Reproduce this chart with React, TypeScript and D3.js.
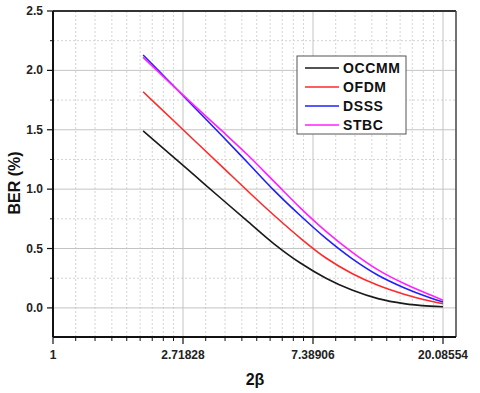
import * as d3 from "d3";

// x values (2β), log-e axis
const xValues = [2, 2.4596, 3.0042, 3.6693, 4.4817, 5.4739, 6.6859, 8.1662, 9.9742, 12.1825, 14.8797, 18.1741, 20.08554];
const occmm = [1.49, 1.295, 1.105, 0.915, 0.727, 0.54, 0.38, 0.25, 0.15, 0.078, 0.036, 0.015, 0.01];
const ofdm = [1.82, 1.605, 1.397, 1.19, 0.982, 0.78, 0.59, 0.42, 0.29, 0.19, 0.115, 0.058, 0.035];
const dsss = [2.13, 1.9, 1.675, 1.45, 1.22, 0.99, 0.78, 0.585, 0.415, 0.275, 0.17, 0.085, 0.05];
const stbc = [2.11, 1.895, 1.69, 1.49, 1.285, 1.065, 0.845, 0.645, 0.47, 0.32, 0.205, 0.11, 0.065];

const seriesNames = ["OCCMM", "OFDM", "DSSS", "STBC"];
const seriesColors = ["#1a1a1a", "#ff2a2a", "#2020ff", "#ff22ff"];
const seriesValues = [occmm, ofdm, dsss, stbc];

const xTickLabels = ["1", "2.71828", "7.38906", "20.08554"];
const xTicks = [1, Math.E, Math.E ** 2, Math.E ** 3];
const yTicks = [0, 0.5, 1.0, 1.5, 2.0, 2.5];

export default function App() {
  const width = 480;
  const height = 393;
  const margin = { top: 11, right: 24, bottom: 56, left: 53 };
  const innerRight = width - margin.right;
  const innerBottom = height - margin.bottom;

  const x = d3
    .scaleLog()
    .base(Math.E)
    .domain([1, Math.exp(3.1)])
    .range([margin.left, innerRight]);
  const y = d3.scaleLinear().domain([-0.245, 2.5]).range([innerBottom, margin.top]);

  // Origin style minor ticks: 8 linear steps between decades
  const xMinor: number[] = [];
  for (let d = 0; d < 3; d++) {
    const a = Math.exp(d);
    const b = Math.exp(d + 1);
    for (let k = 1; k < 9; k++) xMinor.push(a + (k * (b - a)) / 9);
  }
  const yMinor = [-0.25, 0.25, 0.75, 1.25, 1.75, 2.25].filter((v) => y(v) <= innerBottom);

  const line = d3
    .line<number>()
    .x((_, i) => x(xValues[i]))
    .y((d) => y(d))
    .curve(d3.curveCatmullRom.alpha(0.5));

  const font = "'Liberation Sans', Arial, sans-serif";

  return (
    <svg width={width} height={height} style={{ position: "absolute", left: 0, top: 0 }}>
      <rect width={width} height={height} fill="#fff" />
      {/* grid */}
      {xMinor.map((v, i) => (
        <line key={"xm" + i} x1={x(v)} x2={x(v)} y1={margin.top} y2={innerBottom}
          stroke="#d4d4d4" strokeDasharray="2,2" />
      ))}
      {yMinor.map((v, i) => (
        <line key={"ym" + i} x1={margin.left} x2={innerRight} y1={y(v)} y2={y(v)}
          stroke="#d4d4d4" strokeDasharray="2,2" />
      ))}
      {xTicks.slice(1).map((v, i) => (
        <line key={"xg" + i} x1={x(v)} x2={x(v)} y1={margin.top} y2={innerBottom} stroke="#c4c4c4" />
      ))}
      {yTicks.slice(0, 5).map((v, i) => (
        <line key={"yg" + i} x1={margin.left} x2={innerRight} y1={y(v)} y2={y(v)} stroke="#c4c4c4" />
      ))}

      {/* frame */}
      <line x1={margin.left} x2={innerRight} y1={margin.top} y2={margin.top} stroke="#333" strokeWidth={2} />
      <line x1={innerRight} x2={innerRight} y1={margin.top} y2={innerBottom} stroke="#444" strokeWidth={1.5} />

      {/* series */}
      {seriesValues.map((vals, i) => (
        <path key={seriesNames[i]} d={line(vals) ?? ""} fill="none" stroke={seriesColors[i]} strokeWidth={1.6} />
      ))}

      {/* axes */}
      <line x1={margin.left} x2={innerRight} y1={innerBottom} y2={innerBottom} stroke="#111" strokeWidth={2} />
      <line x1={margin.left} x2={margin.left} y1={margin.top} y2={innerBottom} stroke="#111" strokeWidth={2} />
      {xTicks.map((v, i) => (
        <g key={"xt" + i}>
          <line x1={x(v)} x2={x(v)} y1={innerBottom} y2={innerBottom + 7} stroke="#111" strokeWidth={1.2} />
          <text x={x(v)} y={innerBottom + 22} textAnchor="middle" fontFamily={font} fontWeight="bold"
            fontSize={12} fill="#222">{xTickLabels[i]}</text>
        </g>
      ))}
      {xMinor.map((v, i) => (
        <line key={"xmt" + i} x1={x(v)} x2={x(v)} y1={innerBottom} y2={innerBottom + 4} stroke="#111" />
      ))}
      {yTicks.map((v, i) => (
        <g key={"yt" + i}>
          <line x1={margin.left - 6} x2={margin.left} y1={y(v)} y2={y(v)} stroke="#111" strokeWidth={1.2} />
          <text x={margin.left - 10} y={y(v) + 4} textAnchor="end" fontFamily={font} fontWeight="bold"
            fontSize={12} fill="#222">{v.toFixed(1)}</text>
        </g>
      ))}
      {yMinor.map((v, i) => (
        <line key={"ymt" + i} x1={margin.left - 3} x2={margin.left} y1={y(v)} y2={y(v)} stroke="#111" />
      ))}

      {/* axis titles */}
      <text transform={`translate(20, 183) rotate(-90)`} textAnchor="middle" fontFamily={font}
        fontWeight="bold" fontSize={16} fill="#111">BER (%)</text>
      <text x={255} y={385} textAnchor="middle" fontFamily={font} fontWeight="bold" fontSize={16}
        fill="#111">2β</text>

      {/* legend */}
      <g transform="translate(297, 56)">
        <rect width={109} height={78} fill="#fff" stroke="#555" />
        {seriesNames.map((name, i) => (
          <g key={name} transform={`translate(0, ${12 + i * 19})`}>
            <line x1={8} x2={42} y1={0} y2={0} stroke={seriesColors[i]} strokeWidth={1.6} />
            <text x={46} y={5} fontFamily={font} fontWeight="bold" fontSize={14} letterSpacing={0.6}
              fill="#111">{name}</text>
          </g>
        ))}
      </g>
    </svg>
  );
}
